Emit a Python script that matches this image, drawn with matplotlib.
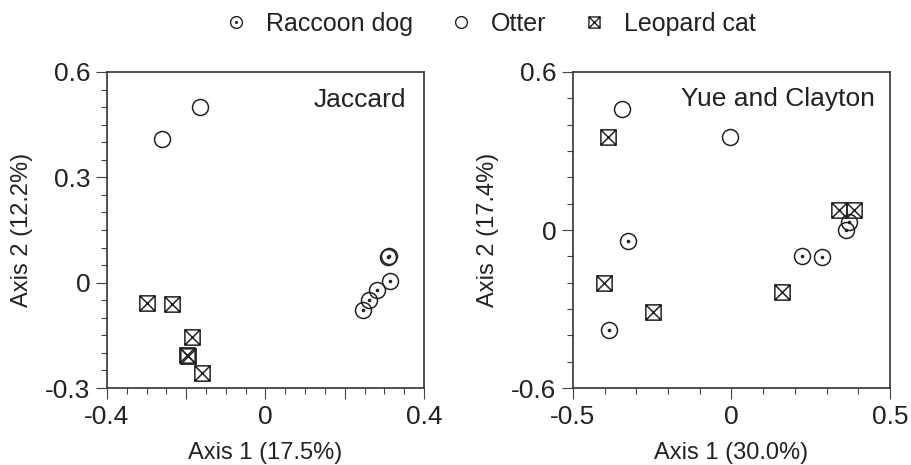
import matplotlib
matplotlib.use("Agg")
import matplotlib.pyplot as plt
from matplotlib.path import Path
from matplotlib.lines import Line2D
from matplotlib.legend_handler import HandlerTuple
from matplotlib.ticker import MultipleLocator, FixedLocator, FuncFormatter

plt.rcParams['font.family'] = ['Liberation Sans', 'DejaVu Sans']

# ---- data ----
species = ["Raccoon dog", "Otter", "Leopard cat"]

jac_raccoon_x = [0.308, 0.312, 0.314, 0.281, 0.262, 0.247]
jac_raccoon_y = [0.072, 0.075, 0.004, -0.020, -0.049, -0.077]
jac_otter_x = [-0.262, -0.165]
jac_otter_y = [0.410, 0.501]
jac_leopard_x = [-0.300, -0.237, -0.185, -0.198, -0.196, -0.161]
jac_leopard_y = [-0.058, -0.061, -0.156, -0.205, -0.208, -0.258]

yc_raccoon_x = [-0.326, -0.387, 0.221, 0.286, 0.372, 0.360]
yc_raccoon_y = [-0.043, -0.380, -0.100, -0.102, 0.030, 0.001]
yc_otter_x = [-0.347, -0.005]
yc_otter_y = [0.460, 0.352]
yc_leopard_x = [-0.390, -0.402, -0.249, 0.158, 0.340, 0.387]
yc_leopard_y = [0.355, -0.201, -0.311, -0.235, 0.077, 0.077]

panel_titles = ["Jaccard", "Yue and Clayton"]
xlabels = ["Axis 1 (17.5%)", "Axis 1 (30.0%)"]
ylabels = ["Axis 2 (12.2%)", "Axis 2 (17.4%)"]

# ---- markers ----
box_x = Path([(-1, -1), (1, -1), (1, 1), (-1, 1), (-1, -1),
              (-1, -1), (1, 1), (-1, 1), (1, -1)],
             [Path.MOVETO, Path.LINETO, Path.LINETO, Path.LINETO, Path.CLOSEPOLY,
              Path.MOVETO, Path.LINETO, Path.MOVETO, Path.LINETO])

INK = '#222222'
MS = 11.5
MEW = 1.1

fig = plt.figure(figsize=(9.12, 4.65), dpi=100)
ax1 = fig.add_axes([107/912, 77/465, 317/912, 316/465])
ax2 = fig.add_axes([573/912, 77/465, 317/912, 316/465])

def draw(ax, rx, ry, ox, oy, lx, ly):
    ax.plot(lx, ly, ls='none', marker=box_x, ms=MS - 0.5, mfc='none', mec=INK, mew=MEW)
    ax.plot(ox, oy, ls='none', marker='o', ms=MS, mfc='none', mec=INK, mew=MEW)
    ax.plot(rx, ry, ls='none', marker='o', ms=MS, mfc='none', mec=INK, mew=MEW)
    ax.plot(rx, ry, ls='none', marker='o', ms=2.6, mfc=INK, mec=INK, mew=0)

draw(ax1, jac_raccoon_x, jac_raccoon_y, jac_otter_x, jac_otter_y, jac_leopard_x, jac_leopard_y)
draw(ax2, yc_raccoon_x, yc_raccoon_y, yc_otter_x, yc_otter_y, yc_leopard_x, yc_leopard_y)

def style(ax, xlim, ylim, xmaj, xlab_vals, xmin, ymaj, ylab_vals, ymin, title, tx, ty, xl, yl, ylx):
    ax.set_xlim(*xlim)
    ax.set_ylim(*ylim)
    ax.xaxis.set_major_locator(FixedLocator(xmaj))
    ax.xaxis.set_minor_locator(MultipleLocator(xmin))
    ax.yaxis.set_major_locator(FixedLocator(ymaj))
    ax.yaxis.set_minor_locator(MultipleLocator(ymin))

    def fmt(vals):
        def f(v, pos):
            for t in vals:
                if abs(v - t) < 1e-9:
                    return '0' if abs(t) < 1e-9 else ('%g' % t)
            return ''
        return FuncFormatter(f)
    ax.xaxis.set_major_formatter(fmt(xlab_vals))
    ax.yaxis.set_major_formatter(fmt(ylab_vals))
    ax.tick_params(which='major', direction='out', length=8, width=0.8, color='#444444',
                   labelsize=19, labelcolor=INK, pad=4)
    ax.tick_params(which='minor', direction='out', length=4, width=0.8, color='#444444')
    ax.tick_params(top=False, right=False)
    for s in ax.spines.values():
        s.set_linewidth(1.2)
        s.set_color('#333333')
    ax.text(tx, ty, title, transform=ax.transAxes, ha='right', va='baseline',
            fontsize=19, color=INK)
    ax.set_xlabel(xl, fontsize=17, color=INK)
    ax.set_ylabel(yl, fontsize=17, color=INK)
    ax.xaxis.set_label_coords(0.5, -0.172)
    ax.yaxis.set_label_coords(ylx, 0.5)

style(ax1, (-0.4, 0.4), (-0.3, 0.6), [-0.4, -0.2, 0, 0.2, 0.4], [-0.4, 0, 0.4], 0.05,
      [-0.3, 0, 0.3, 0.6], [-0.3, 0, 0.3, 0.6], 0.05,
      panel_titles[0], 0.945, 0.889, xlabels[0], ylabels[0], -0.232)
style(ax2, (-0.5, 0.5), (-0.6, 0.6), [-0.5, 0, 0.5], [-0.5, 0, 0.5], 0.1,
      [-0.6, 0, 0.6], [-0.6, 0, 0.6], 0.1,
      panel_titles[1], 0.953, 0.893, xlabels[1], ylabels[1], -0.235)

# ---- legend ----
LMS = 8.5
h_r = (Line2D([], [], ls='none', marker='o', ms=LMS, mfc='none', mec=INK, mew=1.0),
       Line2D([], [], ls='none', marker='o', ms=2.2, mfc=INK, mec=INK, mew=0))
h_o = Line2D([], [], ls='none', marker='o', ms=LMS, mfc='none', mec=INK, mew=1.0)
h_l = Line2D([], [], ls='none', marker=box_x, ms=LMS - 0.5, mfc='none', mec=INK, mew=1.0)
fig.legend([h_r, h_o, h_l], species, loc='center', bbox_to_anchor=(0.537, 0.948),
           ncol=3, frameon=False, fontsize=18, handlelength=1.0, handletextpad=0.7,
           columnspacing=1.4, labelcolor=INK,
           handler_map={tuple: HandlerTuple(ndivide=1, pad=0)})

fig.savefig('out.png', dpi=100)
